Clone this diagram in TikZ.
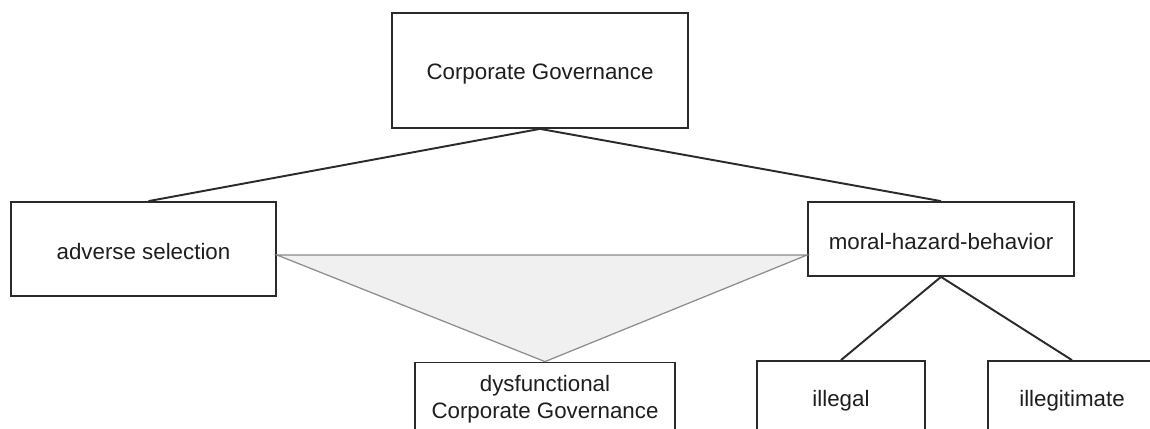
\documentclass[tikz,border=0pt]{standalone}
\usepackage{fontspec}
\setmainfont{Liberation Sans}
\usetikzlibrary{calc}
\definecolor{boxgray}{HTML}{2A2A2A}
\definecolor{wedgegray}{HTML}{8C8C8C}
\definecolor{wedgefill}{HTML}{F0F0F0}
\definecolor{textgray}{HTML}{1E1E1E}
\newcommand{\boxfont}{\fontsize{12.7}{15.3}\selectfont}

\begin{document}
\begin{tikzpicture}[x=0.02cm,y=0.02cm]
	\tikzset{box/.style={draw=boxgray,line width=1pt,fill=white,text=textgray,font=\boxfont,align=center,inner sep=0pt}}
	\tikzset{oneline/.style={text height=12.4pt}}
	\tikzset{link/.style={draw=boxgray,line width=1.1pt}}
	
	% Set the size of one pixel of the reference
	\def\px{0.02} % in cm
	
	% Page frame
	\clip (0,0) rectangle (1150,429);
	
	% Top box
	\node[box,oneline,minimum width={296*\px cm},minimum height={115*\px cm}] (cg) at (540,358.5) {Corporate Governance};
	
	% Second row
	\node[box,oneline,minimum width={265*\px cm},minimum height={94*\px cm}] (adv) at (143.5,180) {adverse selection};
	\node[box,oneline,minimum width={266*\px cm},minimum height={74*\px cm}] (mhb) at (941,190) {moral-hazard-behavior};
	
	% Bottom row
	\node[box,minimum width={260*\px cm},minimum height={74*\px cm}] (dys) at (545,29.5) {dysfunctional\\Corporate Governance};
	\node[box,oneline,minimum width={168*\px cm},minimum height={74*\px cm}] (ill) at (841,31) {illegal};
	\node[box,oneline,minimum width={168*\px cm},minimum height={74*\px cm}] (illeg) at (1072,31) {illegitimate};
	
	% Tree lines
	\draw[link] (cg.south) -- ($(adv.north)+(5,0)$);
	\draw[link] (cg.south) -- (mhb.north);
	\draw[link] (mhb.south) -- (ill.north);
	\draw[link] (mhb.south) -- (illeg.north);
	
	% Grey wedge between the two kinds of behaviour
	\coordinate (wl) at ($(adv.east)+(0,-6)$);
	\coordinate (wr) at ($(mhb.west)+(0,-16)$);
	\draw[wedgegray,fill=wedgefill,line width=0.7pt] (wl) -- (wr) -- (dys.north) -- cycle;
	
\end{tikzpicture}
\end{document}
